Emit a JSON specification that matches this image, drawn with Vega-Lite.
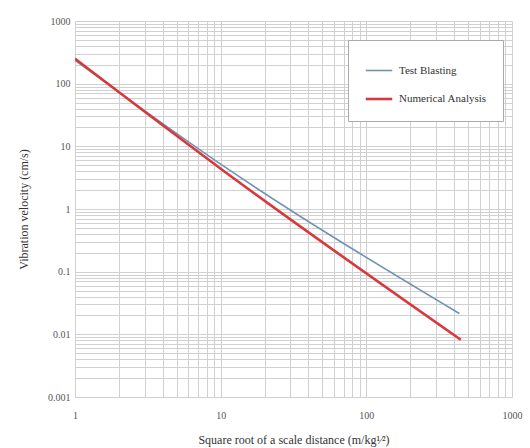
{
  "$schema": "https://vega.github.io/schema/vega-lite/v6.json",
  "width": 437,
  "height": 376,
  "autosize": {"type": "none"},
  "padding": {"left": 75, "top": 21, "right": 18, "bottom": 51},
  "background": "white",
  "config": {
    "view": {"stroke": null},
    "font": "Liberation Serif",
    "axis": {"labelFont": "Liberation Serif", "titleFont": "Liberation Serif"},
    "legend": {"labelFont": "Liberation Serif"}
  },
  "data": {
    "values": [
      {"x": 1, "v": 236, "series": "Test Blasting"},
      {"x": 10, "v": 5.2, "series": "Test Blasting"},
      {"x": 435, "v": 0.0215, "series": "Test Blasting"},
      {"x": 1, "v": 250, "series": "Numerical Analysis"},
      {"x": 10, "v": 4.4, "series": "Numerical Analysis"},
      {"x": 445, "v": 0.0082, "series": "Numerical Analysis"}
    ]
  },
  "mark": {"type": "line", "clip": true, "interpolate": "monotone"},
  "encoding": {
    "x": {
      "field": "x",
      "type": "quantitative",
      "scale": {"type": "log", "domain": [1, 1000], "nice": false},
      "axis": {
        "title": "Square root of a scale distance (m/kg¹⁄²)",
        "titleFont": "Liberation Serif",
        "titleFontSize": 12,
        "titleFontWeight": "normal",
        "titleColor": "#333",
        "titlePadding": 14,
        "values": [1,2,3,4,5,6,7,8,9,10,20,30,40,50,60,70,80,90,100,200,300,400,500,600,700,800,900,1000],
        "labelExpr": "abs(log(datum.value)/LN10 - round(log(datum.value)/LN10)) < 0.000001 ? format(datum.value, '~g') : ''",
        "labelFont": "Liberation Serif",
        "labelFontSize": 10,
        "labelColor": "#555",
        "labelPadding": 13,
        "labelFlush": false,
        "labelOverlap": false,
        "domain": false,
        "ticks": false,
        "grid": true,
        "gridColor": "#d0d0d0",
        "gridWidth": 1
      }
    },
    "y": {
      "field": "v",
      "type": "quantitative",
      "scale": {"type": "log", "domain": [0.001, 1000], "nice": false},
      "axis": {
        "title": "Vibration velocity (cm/s)",
        "titleFont": "Liberation Serif",
        "titleFontSize": 12,
        "titleFontWeight": "normal",
        "titleColor": "#333",
        "titlePadding": 17,
        "values": [0.001,0.002,0.003,0.004,0.005,0.006,0.007,0.008,0.009,0.01,0.02,0.03,0.04,0.05,0.06,0.07,0.08,0.09,0.1,0.2,0.3,0.4,0.5,0.6,0.7,0.8,0.9,1,2,3,4,5,6,7,8,9,10,20,30,40,50,60,70,80,90,100,200,300,400,500,600,700,800,900,1000],
        "labelExpr": "abs(log(datum.value)/LN10 - round(log(datum.value)/LN10)) < 0.000001 ? format(datum.value, '~g') : ''",
        "labelFont": "Liberation Serif",
        "labelFontSize": 10,
        "labelColor": "#555",
        "labelPadding": 5,
        "labelFlush": false,
        "labelOverlap": false,
        "domain": false,
        "ticks": false,
        "grid": true,
        "gridColor": "#d0d0d0",
        "gridWidth": 1
      }
    },
    "color": {
      "field": "series",
      "type": "nominal",
      "scale": {"domain": ["Test Blasting", "Numerical Analysis"], "range": ["#6f93b3", "#d8383c"]},
      "legend": {
        "title": null,
        "orient": "none",
        "legendX": 273,
        "legendY": 19,
        "symbolType": "stroke",
        "symbolSize": 700,
        "symbolStrokeWidth": 1.3,
        "labelFont": "Liberation Serif",
        "labelFontSize": 11,
        "labelColor": "#333",
        "labelOffset": 5,
        "padding": 16,
        "rowPadding": 8,
        "fillColor": "white",
        "strokeColor": "#aaa",
        "labelLimit": 200
      }
    },
    "strokeWidth": {
      "field": "series",
      "type": "nominal",
      "scale": {"domain": ["Test Blasting", "Numerical Analysis"], "range": [1.6, 2.6]},
      "legend": null
    }
  }
}
